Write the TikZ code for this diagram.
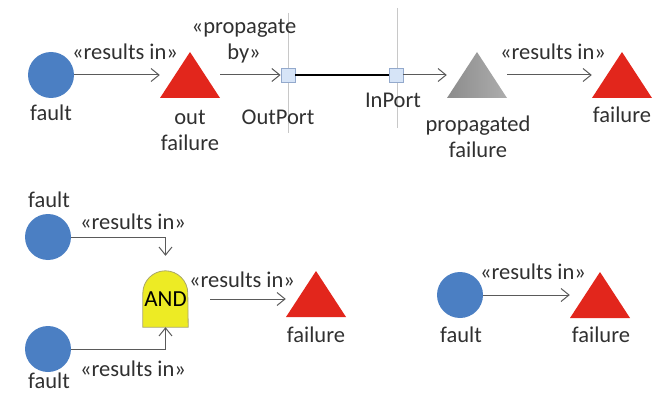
\documentclass[tikz,border=0pt]{standalone}
\usepackage{fontspec}
\setmainfont{Carlito}
\usetikzlibrary{arrows.meta,backgrounds}

\definecolor{faultblue}{HTML}{4B7FC3}
\definecolor{failred}{HTML}{E2261C}
\definecolor{txtgray}{HTML}{303030}
\definecolor{linkgray}{HTML}{5A5A5A}
\definecolor{guidegray}{HTML}{C8C8C8}
\definecolor{portfill}{HTML}{D6E4F7}
\definecolor{portedge}{HTML}{93A9CC}
\definecolor{gatefill}{HTML}{EDEB24}
\definecolor{gateedge}{HTML}{A9A66A}
\definecolor{propdark}{HTML}{8C8C8C}
\definecolor{proplight}{HTML}{ADADAD}

\begin{document}
\begin{tikzpicture}[x=1pt, y=-1pt,
  font=\fontsize{22.5}{26}\selectfont, text=txtgray,
  fault/.style={circle, fill=faultblue, minimum size=46pt, inner sep=0pt},
  tribox/.style={minimum width=60pt, minimum height=46pt, inner sep=0pt},
  redtri/.style={tribox, path picture={
      \fill[failred] (path picture bounding box.south west)
        -- (path picture bounding box.south east)
        -- (path picture bounding box.north) -- cycle;}},
  graytri/.style={tribox, path picture={
      \shade[left color=propdark, right color=proplight]
        (path picture bounding box.south west)
        -- (path picture bounding box.south east)
        -- (path picture bounding box.north) -- cycle;}},
  lbl/.style={align=center, inner sep=0pt},
  link/.style={draw=linkgray, line width=1pt,
    -{Straight Barb[length=8pt,width=13pt,line width=1pt]}},
  port/.style={rectangle, draw=portedge, fill=portfill, line width=0.8pt,
    minimum size=14pt, inner sep=0pt},
  guide/.style={draw=guidegray, line width=1pt},
  wire/.style={draw=black, line width=2pt},
  gate/.style={minimum width=45pt, minimum height=56pt, inner sep=0pt,
    text=black, font=\fontsize{23}{26}\selectfont},
]
\useasboundingbox (0,0) rectangle (659,396);

% ---------- propagation chain ----------
\coordinate (g1t) at (288,13);  \coordinate (g1b) at (288,133);
\coordinate (g2t) at (397,8);   \coordinate (g2b) at (397,128);
\draw[guide] (g1t) -- (g1b);
\draw[guide] (g2t) -- (g2b);

\node[fault] (c1) at (51,75) {};
\node[lbl] (c1l) at (51,113) {fault};

\node[redtri] (t1) at (190,75) {};
\node[lbl] (t1l) at (190,130) {out\\failure};

\node[port] (p1) at (288,75) {};
\node[lbl] (p1l) at (278,117) {OutPort};

\node[port] (p2) at (396,75) {};
\node[lbl] (p2l) at (393,100) {InPort};

\node[graytri] (t2) at (477,75) {};
\node[lbl] (t2l) at (478,137) {propagated\\failure};

\node[redtri] (t3) at (622,75) {};
\node[lbl] (t3l) at (622,115) {failure};

\draw[link] (c1) -- (t1.west);
\draw[link] (t1.east) -- (p1.west);
\draw[wire] (p1.east) -- (p2.west);
\draw[link] (p2.east) -- (t2.west);
\draw[link] (t2.east) -- (t3.west);

\node[lbl] (r1) at (125,52) {«results in»};
\node[lbl] (r2) at (244,41) {«propagate\\by»};
\node[lbl] (r3) at (553,52) {«results in»};

% ---------- AND combination ----------
\node[fault] (ca) at (48,237) {};
\node[lbl] (cal) at (49,200) {fault};
\node[fault] (cb) at (48,349) {};
\node[lbl] (cbl) at (49,381) {fault};

\node[gate] (and) at (165.5,299) {AND};
\begin{scope}[on background layer]
  \draw[fill=gatefill, draw=gateedge, line width=0.8pt]
    (and.south west) -- ([yshift=-22.5pt]and.north west)
    arc[start angle=180, end angle=0, radius=22.5pt]
    -- (and.south east) -- cycle;
\end{scope}

\node[redtri] (t4) at (316,294) {};
\node[lbl] (t4l) at (316,335) {failure};

\draw[link, shorten >=15pt] (ca.east) -| (and.north);
\draw[link] (cb.east) -| (and.south);
\draw[link, shorten <=22pt] (and.east) -- (and.east -| t4.west);

\node[lbl] (r4) at (133,222) {«results in»};
\node[lbl] (r5) at (133,369) {«results in»};
\node[lbl] (r6) at (242,280) {«results in»};

% ---------- single cause ----------
\node[fault] (cc) at (460,295) {};
\node[lbl] (ccl) at (461,335) {fault};
\node[redtri] (t5) at (600,295) {};
\node[lbl] (t5l) at (601,335) {failure};
\draw[link] (cc) -- (t5.west);
\node[lbl] (r7) at (533,272) {«results in»};
\end{tikzpicture}
\end{document}
